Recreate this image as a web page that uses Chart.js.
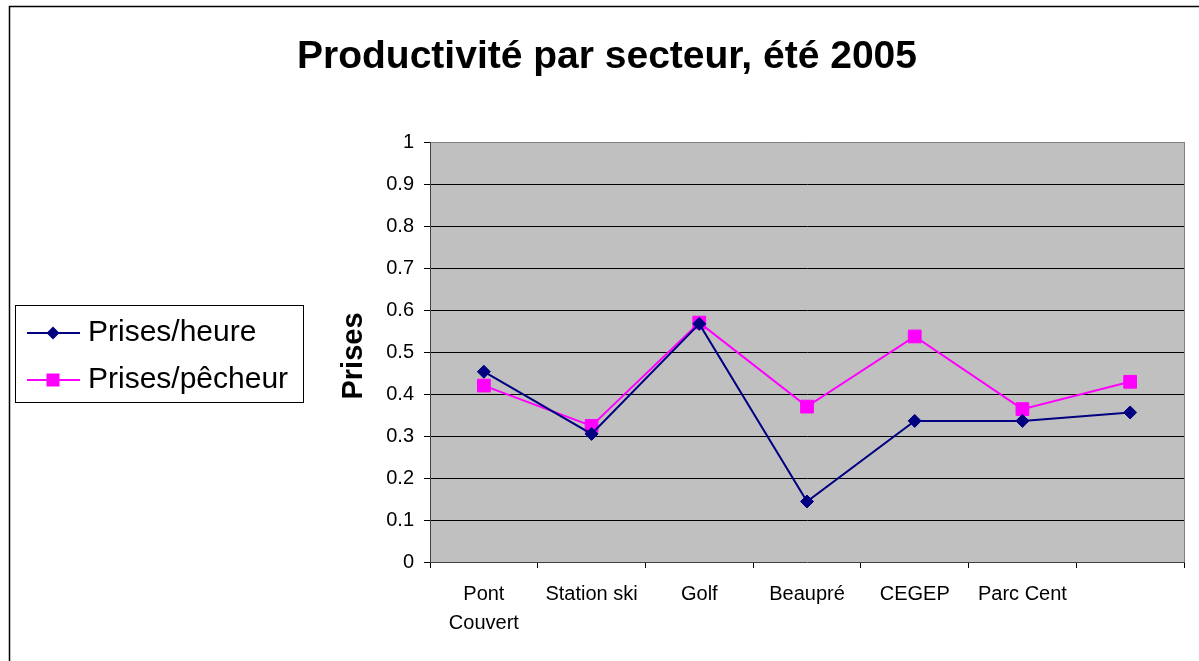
<!DOCTYPE html>
<html>
<head>
<meta charset="utf-8">
<script src="https://cdn.jsdelivr.net/npm/chart.js@4/dist/chart.umd.min.js"></script>
<style>
  html, body { margin: 0; padding: 0; background: #fff; }
  #wrap { width: 1199px; height: 661px; }
</style>
</head>
<body>
<div id="wrap"><canvas id="chart" width="1199" height="661"></canvas></div>
<script>
const titleText = 'Productivité par secteur, été 2005';
const yTitle = 'Prises';
const categories = [['Pont', 'Couvert'], 'Station ski', 'Golf', 'Beaupré', 'CEGEP', 'Parc Cent', ''];
const heureLabel = 'Prises/heure';
const heureValues = [0.453, 0.305, 0.567, 0.144, 0.336, 0.336, 0.356];
const pecheurLabel = 'Prises/pêcheur';
const pecheurValues = [0.42, 0.324, 0.57, 0.37, 0.537, 0.364, 0.429];
const yMin = 0;
const yMax = 1;
const yStep = 0.1;

const FONT = 'Arial, "Liberation Sans", sans-serif';

// gray plot background, drawn before the grid
const plotBackground = {
  id: 'plotBackground',
  beforeDraw(chart) {
    const {ctx, chartArea: a} = chart;
    ctx.save();
    ctx.fillStyle = '#fff';
    ctx.fillRect(0, 0, chart.width, chart.height);
    ctx.fillStyle = '#c0c0c0';
    ctx.fillRect(a.left, a.top, a.right - a.left, a.bottom - a.top);
    ctx.restore();
  },
  afterDraw(chart) {
    const {ctx, chartArea: a} = chart;
    ctx.save();
    // right edge of plot area
    ctx.strokeStyle = '#808080';
    ctx.lineWidth = 1;
    ctx.beginPath();
    ctx.moveTo(a.right + 0.5, a.top);
    ctx.lineTo(a.right + 0.5, a.bottom);
    ctx.stroke();

    // outer frame (runs off the right and bottom)
    ctx.strokeStyle = '#000';
    ctx.lineWidth = 1.5;
    ctx.beginPath();
    ctx.moveTo(9.5, chart.height + 2);
    ctx.lineTo(9.5, 6.5);
    ctx.lineTo(chart.width + 2, 6.5);
    ctx.stroke();

    // title
    ctx.fillStyle = '#000';
    ctx.font = 'bold 39px ' + FONT;
    ctx.textAlign = 'center';
    ctx.textBaseline = 'alphabetic';
    ctx.fillText(titleText, 607, 68);

    // y axis title
    ctx.save();
    ctx.translate(362, 356);
    ctx.rotate(-Math.PI / 2);
    ctx.font = 'bold 29px ' + FONT;
    ctx.textAlign = 'center';
    ctx.fillText(yTitle, 0, 0);
    ctx.restore();

    // legend
    ctx.lineWidth = 1;
    ctx.strokeStyle = '#000';
    ctx.strokeRect(15.5, 305.5, 288, 97);
    const rows = [333, 380];
    chart.data.datasets.forEach((ds, i) => {
      const y = rows[i];
      ctx.strokeStyle = ds.borderColor;
      ctx.lineWidth = 2;
      ctx.beginPath();
      ctx.moveTo(27, y);
      ctx.lineTo(80, y);
      ctx.stroke();
      ctx.fillStyle = ds.pointBackgroundColor;
      ctx.beginPath();
      if (ds.pointStyle === 'rectRot') {
        ctx.moveTo(53, y - 6.5);
        ctx.lineTo(59.5, y);
        ctx.lineTo(53, y + 6.5);
        ctx.lineTo(46.5, y);
        ctx.closePath();
      } else {
        ctx.rect(46.5, y - 6.5, 13, 13);
      }
      ctx.fill();
      ctx.fillStyle = '#000';
      ctx.font = '30px ' + FONT;
      ctx.textAlign = 'left';
      ctx.textBaseline = 'middle';
      ctx.fillText(ds.label, 88, y);
    });
    ctx.restore();
  }
};

const data = {
  labels: categories,
  datasets: [
    {
      label: heureLabel,
      data: heureValues,
      borderColor: '#000080',
      backgroundColor: '#000080',
      pointBackgroundColor: '#000080',
      pointBorderColor: '#000080',
      pointStyle: 'rectRot',
      pointRadius: 6.5,
      pointBorderWidth: 1,
      borderWidth: 2,
      tension: 0
    },
    {
      label: pecheurLabel,
      data: pecheurValues,
      borderColor: '#ff00ff',
      backgroundColor: '#ff00ff',
      pointBackgroundColor: '#ff00ff',
      pointBorderColor: '#ff00ff',
      pointStyle: 'rect',
      pointRadius: 9,
      pointBorderWidth: 1,
      borderWidth: 2,
      tension: 0
    }
  ]
};

const config = {
  type: 'line',
  data: data,
  options: {
    responsive: false,
    animation: false,
    devicePixelRatio: 1,
    layout: { padding: { top: 142, right: 15, left: 0, bottom: 0 } },
    plugins: {
      legend: { display: false },
      title: { display: false },
      tooltip: { enabled: false }
    },
    scales: {
      x: {
        offset: true,
        afterFit(scale) { scale.height = 99; },
        grid: {
          offset: true,
          drawOnChartArea: false,
          drawTicks: true,
          tickLength: 6,
          color: '#000'
        },
        border: { color: '#404040', width: 1 },
        ticks: {
          color: '#000',
          font: { family: FONT, size: 20, lineHeight: 1.45 },
          padding: 12,
          maxRotation: 0,
          autoSkip: false
        }
      },
      y: {
        min: yMin,
        max: yMax,
        afterFit(scale) { scale.width = 430; },
        grid: {
          color: (c) => {
            if (c.tick && c.tick.value === yMin) return 'rgba(0,0,0,0)';
            if (c.tick && c.tick.value === yMax) return '#808080';
            return '#000';
          },
          tickColor: '#000',
          tickLength: 6,
          lineWidth: 1
        },
        border: { color: '#404040', width: 1 },
        ticks: {
          stepSize: yStep,
          color: '#000',
          padding: 10,
          font: { family: FONT, size: 20 },
          callback: (v) => String(Math.round(v * 10) / 10)
        }
      }
    }
  },
  plugins: [plotBackground]
};

new Chart(document.getElementById('chart'), config);
</script>
</body>
</html>
